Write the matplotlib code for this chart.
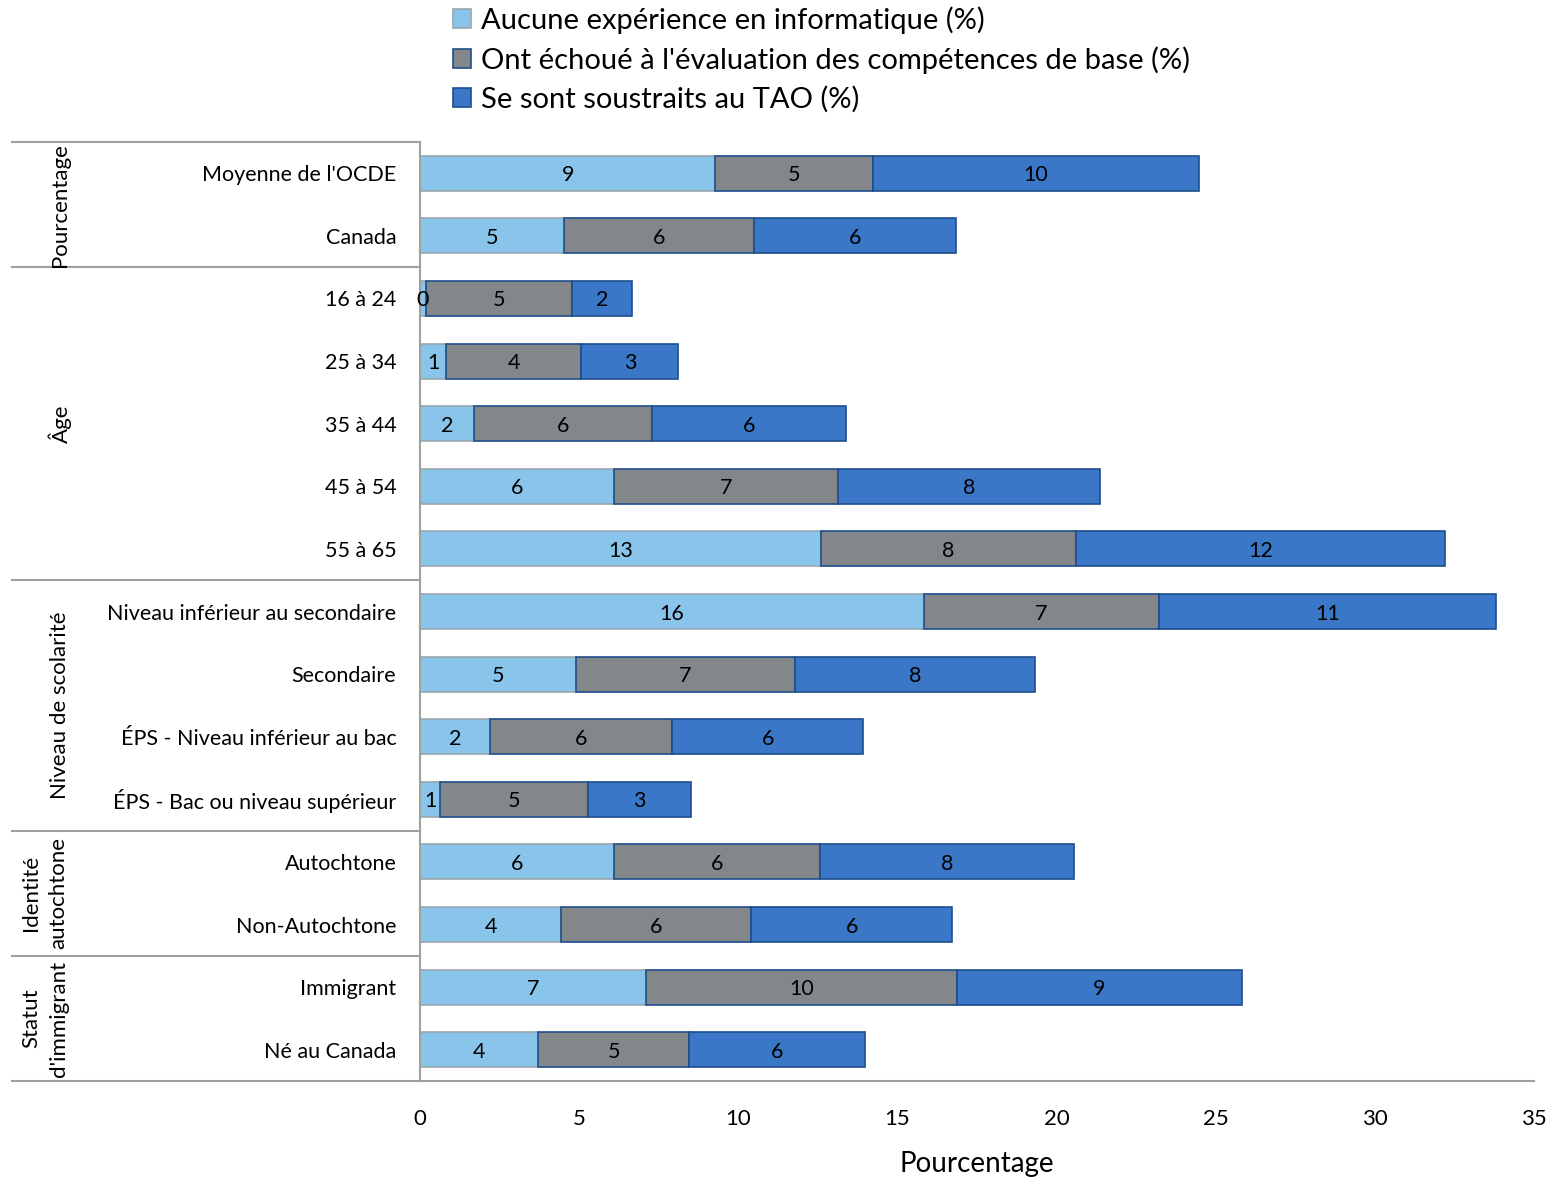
import numpy as np
import matplotlib.pyplot as plt
from matplotlib.transforms import blended_transform_factory

plt.rcParams['font.family'] = ['Lato', 'DejaVu Sans']

# Data
categories = ["Moyenne de l'OCDE", "Canada",
              "16 à 24", "25 à 34", "35 à 44", "45 à 54", "55 à 65",
              "Niveau inférieur au secondaire", "Secondaire",
              "ÉPS - Niveau inférieur au bac", "ÉPS - Bac ou niveau supérieur",
              "Autochtone", "Non-Autochtone",
              "Immigrant", "Né au Canada"]
aucune = [9.28, 4.52, 0.19, 0.82, 1.70, 6.10, 12.61, 15.82, 4.91, 2.20, 0.63, 6.10, 4.43, 7.11, 3.71]
echoue = [4.94, 5.97, 4.59, 4.25, 5.60, 7.04, 7.99, 7.39, 6.86, 5.72, 4.65, 6.48, 5.97, 9.75, 4.75]
soustraits = [10.25, 6.35, 1.89, 3.05, 6.07, 8.21, 11.60, 10.60, 7.55, 6.00, 3.24, 7.96, 6.32, 8.96, 5.53]
series_names = ["Aucune expérience en informatique (%)",
                "Ont échoué à l'évaluation des compétences de base (%)",
                "Se sont soustraits au TAO (%)"]
groups = ["Pourcentage", "Âge", "Niveau de scolarité", "Identité\nautochtone", "Statut\nd'immigrant"]
group_sizes = [2, 5, 4, 2, 2]

colors = ['#89C4EA', '#83878A', '#3A77C7']
edges = ['#9AA5AE', '#1F4E8C', '#1F4E8C']

fig = plt.figure(figsize=(15.51, 11.82), dpi=100)
ax = fig.add_axes([0.2708, 0.0854, 0.7183, 0.7945])

y = np.arange(len(categories))
left = np.zeros(len(categories))
for vals, c, ec, name in zip([aucune, echoue, soustraits], colors, edges, series_names):
    vals = np.array(vals)
    ax.barh(y, vals, left=left, height=0.56, color=c, edgecolor=ec, linewidth=1.2, label=name)
    for yi, l, v in zip(y, left, vals):
        ax.text(l + v / 2, yi, f"{v:.0f}", ha='center', va='center_baseline', fontsize=15.5)
    left = left + vals

ax.set_xlim(0, 35)
ax.set_ylim(len(categories) - 0.5, -0.5)
ax.set_xticks(np.arange(0, 36, 5))
ax.set_yticks(y)
ax.set_yticklabels(categories, fontsize=15.5)
ax.tick_params(axis='x', length=0, labelsize=16, pad=20)
ax.tick_params(axis='y', length=0, pad=17)
ax.set_xlabel("Pourcentage", fontsize=20, labelpad=16)

for s in ['top', 'right']:
    ax.spines[s].set_visible(False)
for s in ['left', 'bottom']:
    ax.spines[s].set_color('#A0A0A0')
    ax.spines[s].set_linewidth(1.5)

# group separators and labels
trans = blended_transform_factory(ax.transAxes, ax.transData)
x_start = (12 - 420) / 1114
bounds = np.concatenate([[0], np.cumsum(group_sizes)]) - 0.5
for b in bounds:
    ax.plot([x_start, 0], [b, b], color='#A0A0A0', lw=1.5, transform=trans, clip_on=False)
for g, b0, b1 in zip(groups, bounds[:-1], bounds[1:]):
    xc = 45 if '\n' in g else 60
    ax.text((xc - 420) / 1114, (b0 + b1) / 2, g,
            rotation=90, ha='center', va='center', multialignment='center',
            fontsize=16, transform=trans, linespacing=1.45)

fig.legend(loc='upper left', bbox_to_anchor=(438 / 1551, 1.007), frameon=False,
           fontsize=21, handlelength=0.62, handleheight=0.62, handletextpad=0.35,
           labelspacing=0.42, borderaxespad=0.1)

fig.savefig("out.png", dpi=100)
